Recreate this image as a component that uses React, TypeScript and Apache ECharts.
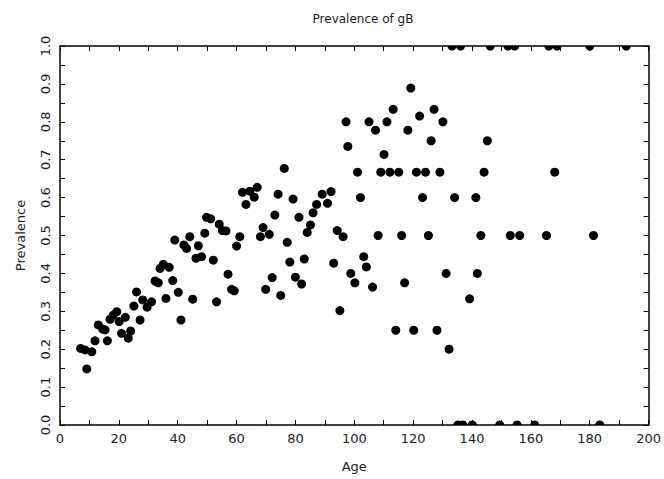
import React, { useEffect, useRef } from "react";
import * as echarts from "echarts";

// Ages and prevalence values
const ages: number[] = [
  7.0, 8.5, 10.8, 9.1, 11.9, 16.1, 13.0, 14.5, 15.3, 17.0,
  18.1, 19.3, 20.1, 22.2, 20.9, 23.2, 24.0, 27.2, 25.1, 26.0,
  28.1, 29.6, 31.1, 32.3, 33.4, 34.0, 35.1, 37.1, 36.0, 38.3,
  40.2, 41.1, 45.1, 39.0, 42.1, 43.0, 44.1, 47.0, 46.2, 48.1,
  49.2, 97.8, 76.2, 62.0, 64.5, 67.0, 66.0, 63.2, 74.1, 79.2,
  73.0, 81.2, 89.1, 92.1, 87.2, 90.9, 86.0, 85.1, 84.0, 94.2,
  96.2, 49.8, 51.2, 54.1, 55.2, 56.4, 61.1, 60.0, 69.0, 68.1,
  71.1, 77.2, 52.1, 57.1, 58.3, 59.2, 53.2, 78.1, 83.0, 72.1,
  69.9, 75.0, 80.0, 82.1, 93.0, 95.1, 98.8,
  119.2, 113.2, 127.1, 97.2, 105.0, 111.1, 130.1, 107.2, 118.2, 122.2,
  110.1, 126.1, 145.2,
  101.1, 109.0, 112.1, 115.1, 121.1, 124.2, 129.1, 144.1, 168.1,
  102.1, 123.2, 134.1, 141.3,
  108.1, 116.1, 125.2, 143.0, 153.0, 156.2, 165.3, 181.3,
  133.2, 136.1, 146.2, 152.2, 154.5, 166.1, 168.9, 180.0, 192.4,
  135.2, 136.9, 140.1, 149.4, 155.3, 161.3, 183.4,
  100.2, 103.2, 104.1, 106.2, 117.1, 131.2, 141.8, 139.2,
  114.1, 120.2, 128.1, 132.2,
];

const prevalence: number[] = [
  0.202, 0.198, 0.193, 0.148, 0.222, 0.222, 0.264, 0.253, 0.251, 0.279,
  0.290, 0.299, 0.273, 0.284, 0.242, 0.229, 0.248, 0.277, 0.314, 0.351,
  0.330, 0.311, 0.325, 0.380, 0.375, 0.413, 0.424, 0.416, 0.334, 0.381,
  0.350, 0.277, 0.332, 0.488, 0.475, 0.466, 0.497, 0.473, 0.440, 0.444,
  0.506, 0.735, 0.677, 0.614, 0.617, 0.627, 0.601, 0.582, 0.609, 0.596,
  0.554, 0.548, 0.609, 0.616, 0.582, 0.585, 0.560, 0.528, 0.508, 0.513,
  0.497, 0.548, 0.544, 0.530, 0.513, 0.512, 0.497, 0.472, 0.521, 0.497,
  0.503, 0.482, 0.435, 0.398, 0.358, 0.354, 0.325, 0.430, 0.438, 0.389,
  0.358, 0.342, 0.390, 0.372, 0.427, 0.302, 0.4,
  0.889, 0.833, 0.833, 0.8, 0.8, 0.8, 0.8, 0.778, 0.778, 0.815,
  0.714, 0.75, 0.75,
  0.667, 0.667, 0.667, 0.667, 0.667, 0.667, 0.667, 0.667, 0.667,
  0.6, 0.6, 0.6, 0.6,
  0.5, 0.5, 0.5, 0.5, 0.5, 0.5, 0.5, 0.5,
  1, 1, 1, 1, 1, 1, 1, 1, 1,
  0, 0, 0, 0, 0, 0, 0,
  0.375, 0.444, 0.417, 0.364, 0.375, 0.4, 0.4, 0.333,
  0.25, 0.25, 0.25, 0.2,
];

const titleText = "Prevalence of gB";
const xName = "Age";
const yName = "Prevalence";

const FONT = "DejaVu Sans, Verdana, sans-serif";
const TXT = "#1a1a1a";

export default function App() {
  const ref = useRef<HTMLDivElement>(null);
  useEffect(() => {
    if (!ref.current) return;
    const chart = echarts.init(ref.current, undefined, { renderer: "svg" });
    const data = ages.map((a, i) => [a, prevalence[i]]);
    const tick = { show: true, inside: true, length: 5, lineStyle: { color: "#000", width: 1 } };
    const minor = { show: true, splitNumber: 2, length: 5, lineStyle: { color: "#000", width: 1 } };
    const line = { show: true, onZero: false, lineStyle: { color: "#000", width: 1.5 } };
    const left = 60;
    const right = 15;
    const top = 46;
    const bottom = 54;
    const W = 664;
    const H = 479;
    chart.setOption({
      animation: false,
      backgroundColor: "#fff",
      title: {
        text: titleText,
        left: 358,
        top: 8,
        textAlign: "center",
        textStyle: { fontFamily: FONT, fontSize: 12, fontWeight: "normal", color: TXT },
      },
      grid: { left, right, top, bottom, containLabel: false },
      // white masks outside the plot frame so dots on the frame look clipped
      graphic: [
        {
          type: "rect",
          z: 3,
          silent: true,
          shape: { x: left - 6, y: top - 7, width: W - left - right + 12, height: 7 },
          style: { fill: "#fff" },
        },
        {
          type: "rect",
          z: 3,
          silent: true,
          shape: { x: left - 6, y: H - bottom, width: W - left - right + 12, height: 6 },
          style: { fill: "#fff" },
        },
      ],
      xAxis: [
        {
          type: "value",
          min: 0,
          max: 200,
          interval: 20,
          position: "bottom",
          z: 5,
          name: xName,
          nameLocation: "middle",
          nameGap: 35,
          nameTextStyle: { fontFamily: FONT, fontSize: 13, color: TXT },
          axisLine: line,
          axisTick: tick,
          minorTick: minor,
          splitLine: { show: false },
          axisLabel: { fontFamily: FONT, fontSize: 13, color: TXT, margin: 7 },
        },
        {
          type: "value",
          min: 0,
          max: 200,
          interval: 20,
          position: "top",
          z: 5,
          axisLine: line,
          axisTick: tick,
          minorTick: minor,
          splitLine: { show: false },
          axisLabel: { show: false },
        },
      ],
      yAxis: [
        {
          type: "value",
          min: 0,
          max: 1,
          interval: 0.1,
          position: "left",
          z: 5,
          name: yName,
          nameLocation: "middle",
          nameGap: 33,
          nameTextStyle: { fontFamily: FONT, fontSize: 13, color: TXT },
          axisLine: line,
          axisTick: tick,
          minorTick: minor,
          splitLine: { show: false },
          axisLabel: {
            fontFamily: FONT,
            fontSize: 13,
            color: TXT,
            rotate: 90,
            margin: 8,
            formatter: (v: number) => v.toFixed(1),
          },
        },
        {
          type: "value",
          min: 0,
          max: 1,
          interval: 0.1,
          position: "right",
          z: 5,
          axisLine: line,
          axisTick: tick,
          minorTick: minor,
          splitLine: { show: false },
          axisLabel: { show: false },
        },
      ],
      series: [
        {
          type: "scatter",
          xAxisIndex: 0,
          yAxisIndex: 0,
          z: 2,
          data,
          symbol: "circle",
          symbolSize: 9,
          itemStyle: { color: "#000", opacity: 1 },
          clip: false,
        },
      ],
    });
    return () => chart.dispose();
  }, []);
  return (
    <div
      ref={ref}
      style={{ position: "fixed", left: 0, top: 0, width: 664, height: 479, background: "#fff" }}
    />
  );
}
